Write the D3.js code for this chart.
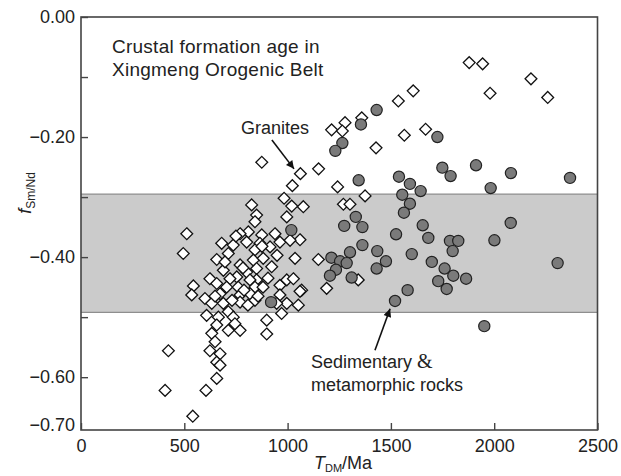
<!DOCTYPE html>
<html><head><meta charset="utf-8">
<script src="https://cdn.jsdelivr.net/npm/d3@7"></script>
<style>
body{margin:0;background:#fff}
svg{display:block}
text{font-family:"Liberation Sans",Arial,sans-serif;fill:#222}
</style>
</head><body><svg id="c" width="621" height="476"></svg>
<script>
// ---- data ----
const xTickValues = [0, 500, 1000, 1500, 2000, 2500];
const xTickLabels = ["0", "500", "1000", "1500", "2000", "2500"];
const yTickValues = [0, -0.1, -0.2, -0.3, -0.4, -0.5, -0.6];
const yTickLabels = ["0.00", "", "\u22120.20", "", "\u22120.40", "", "\u22120.60"];
const yBottomLabel = "\u22120.70";
const bandRange = [-0.295, -0.492];

const graniteT = [1879,1944,2178,1980,2259,1608,1536,1359,1278,1213,1265,1565,1668,1428,1150,1062,1023,1242,1375,983,875,1076,1270,1302,1060,1149,1068,1189,1342,
 826,1020,850,842,996,512,495,810,770,875,939,866,915,802,681,737,963,1012,842,713,657,834,882,923,770,850,1036,689,754,802,721,850,818,624,544,536,657,705,761,842,770,818,673,600,633,689,770,842,963,996,1028,1052,996,963,608,665,713,737,657,633,713,770,899,971,899,423,624,673,657,673,657,
 605,407,541,947,1060,745,649,750,876,808,857,789,731,649,881,905,697,949,784];
const graniteF = [-0.076,-0.078,-0.103,-0.127,-0.134,-0.123,-0.140,-0.168,-0.176,-0.188,-0.190,-0.197,-0.187,-0.218,-0.253,-0.261,-0.281,-0.283,-0.298,-0.302,-0.242,-0.316,-0.312,-0.312,-0.371,-0.404,-0.455,-0.452,-0.438,
 -0.313,-0.315,-0.330,-0.341,-0.333,-0.361,-0.394,-0.358,-0.361,-0.363,-0.361,-0.377,-0.383,-0.375,-0.377,-0.380,-0.375,-0.372,-0.388,-0.394,-0.404,-0.405,-0.402,-0.416,-0.413,-0.419,-0.402,-0.422,-0.433,-0.425,-0.436,-0.438,-0.438,-0.436,-0.448,-0.463,-0.444,-0.450,-0.450,-0.450,-0.463,-0.461,-0.461,-0.469,-0.477,-0.477,-0.475,-0.472,-0.447,-0.438,-0.436,-0.480,-0.477,-0.463,-0.497,-0.500,-0.491,-0.500,-0.513,-0.527,-0.522,-0.522,-0.505,-0.494,-0.528,-0.556,-0.556,-0.561,-0.575,-0.580,-0.602,
 -0.622,-0.622,-0.665,-0.477,-0.457,-0.511,-0.541,-0.365,-0.382,-0.480,-0.465,-0.455,-0.472,-0.465,-0.450,-0.435,-0.408,-0.397,-0.418];

const sedT = [1431,1355,1265,1231,1725,1912,1749,1789,1344,1539,1592,1644,1555,1592,1563,1330,1274,1362,1018,1654,1525,1681,1786,1826,1799,1362,1302,1434,1601,1212,1254,1286,1476,1698,1234,1431,1760,1205,1802,1864,1310,1729,1770,1581,1520,920,2081,1983,2367,2080,2001,2307,1952];
const sedF = [-0.155,-0.179,-0.210,-0.223,-0.200,-0.247,-0.251,-0.265,-0.272,-0.266,-0.278,-0.290,-0.296,-0.311,-0.326,-0.333,-0.348,-0.350,-0.355,-0.347,-0.362,-0.368,-0.373,-0.373,-0.390,-0.380,-0.392,-0.390,-0.395,-0.401,-0.407,-0.410,-0.407,-0.408,-0.421,-0.419,-0.419,-0.431,-0.431,-0.436,-0.434,-0.440,-0.453,-0.455,-0.473,-0.475,-0.260,-0.285,-0.268,-0.343,-0.372,-0.410,-0.515];

// annotation anchors (data units)
const graniteArrow = {from:[924,-0.205], to:[1031,-0.253]};
const sedArrow = {from:[1423,-0.555], to:[1496,-0.486]};

// ---- layout ----
const L = 81, R = 597.5, T = 17, B = 430;
const x = d3.scaleLinear().domain([0, 2500]).range([L, R]);
const y = d3.scaleLinear().domain([-0.688, 0]).range([B, T]);

const svg = d3.select("#c");
const defs = svg.append("defs");
defs.append("marker").attr("id","ah").attr("viewBox","0 0 10 10").attr("refX",10).attr("refY",5)
  .attr("markerWidth",11).attr("markerHeight",8).attr("markerUnits","userSpaceOnUse").attr("orient","auto")
  .append("path").attr("d","M0,0L10,5L0,10Z").attr("fill","#111");

// band
svg.append("rect").attr("x", L).attr("y", y(bandRange[0])).attr("width", R - L)
  .attr("height", y(bandRange[1]) - y(bandRange[0])).attr("fill", "#cbcbcb");
[bandRange[0], bandRange[1]].forEach(v => svg.append("line").attr("x1", L).attr("x2", R)
  .attr("y1", y(v)).attr("y2", y(v)).attr("stroke", "#8e8e8e").attr("stroke-width", 1.4));

// axes (inward ticks)
const xAxis = d3.axisBottom(x).tickValues(xTickValues).tickSize(-7).tickPadding(9)
  .tickFormat((d,i) => xTickLabels[i]);
const gx = svg.append("g").attr("transform", `translate(0,${B})`).call(xAxis);
const yAxis = d3.axisLeft(y).tickValues(yTickValues).tickSize(-7).tickPadding(6)
  .tickFormat((d,i) => yTickLabels[i]);
const gy = svg.append("g").attr("transform", `translate(${L},0)`).call(yAxis);
[gx, gy].forEach(g => {
  g.select(".domain").remove();
  g.selectAll("line").attr("stroke", "#444").attr("stroke-width", 1.4);
  g.selectAll("text").attr("font-size", 18).attr("fill", "#222")
    .attr("font-family", '"Liberation Sans",Arial,sans-serif');
});
gx.selectAll("text").attr("dy", "0.71em");
gy.append("text").attr("x", -6).attr("y", B - 5).attr("dy", "0.32em").attr("text-anchor", "end")
  .attr("font-size", 18).attr("fill", "#222").text(yBottomLabel);

// frame
svg.append("rect").attr("x", L).attr("y", T).attr("width", R - L).attr("height", B - T)
  .attr("fill", "none").attr("stroke", "#444").attr("stroke-width", 1.6);

// granites (diamonds)
const dia = "M0,-5.9L5.9,0L0,5.9L-5.9,0Z";
svg.append("g").selectAll("path").data(graniteT.map((t,i)=>[t, graniteF[i]])).join("path")
  .attr("d", dia).attr("transform", d => `translate(${x(d[0])},${y(d[1])})`)
  .attr("fill", "#fff").attr("stroke", "#111").attr("stroke-width", 1.3);

// sedimentary (circles)
svg.append("g").selectAll("circle").data(sedT.map((t,i)=>[t, sedF[i]])).join("circle")
  .attr("cx", d => x(d[0])).attr("cy", d => y(d[1])).attr("r", 5.6)
  .attr("fill", "#7a7a7a").attr("stroke", "#222").attr("stroke-width", 1.2);

// arrows
[graniteArrow, sedArrow].forEach(a => svg.append("line")
  .attr("x1", x(a.from[0])).attr("y1", y(a.from[1])).attr("x2", x(a.to[0])).attr("y2", y(a.to[1]))
  .attr("stroke", "#111").attr("stroke-width", 1.6).attr("marker-end", "url(#ah)"));

// texts
svg.append("text").attr("x", 112).attr("y", 53).attr("font-size", 19).attr("letter-spacing", 0.25).text("Crustal formation age in");
svg.append("text").attr("x", 112).attr("y", 76).attr("font-size", 19).attr("letter-spacing", 0.25).text("Xingmeng Orogenic Belt");
svg.append("text").attr("x", 241).attr("y", 134).attr("font-size", 18).text("Granites");
const s1 = svg.append("text").attr("x", 311).attr("y", 368).attr("font-size", 18);
s1.append("tspan").text("Sedimentary ");
s1.append("tspan").attr("font-family", '"Liberation Serif","Times New Roman",serif').attr("font-size", 20).text("&");
svg.append("text").attr("x", 311).attr("y", 391).attr("font-size", 18).text("metamorphic rocks");

// axis titles
const xl = svg.append("text").attr("x", 343).attr("y", 469).attr("text-anchor", "middle").attr("font-size", 18);
xl.append("tspan").attr("font-style", "italic").text("T");
xl.append("tspan").attr("font-size", 11).attr("dy", 3).text("DM");
xl.append("tspan").attr("dy", -3).text("/Ma");

const yl = svg.append("text").attr("transform", "translate(31,193) rotate(-90)").attr("text-anchor", "middle").attr("font-size", 18);
yl.append("tspan").attr("font-style", "italic").text("f");
yl.append("tspan").attr("font-size", 12).attr("dy", 4).text("Sm/Nd");
</script>
</body></html>
